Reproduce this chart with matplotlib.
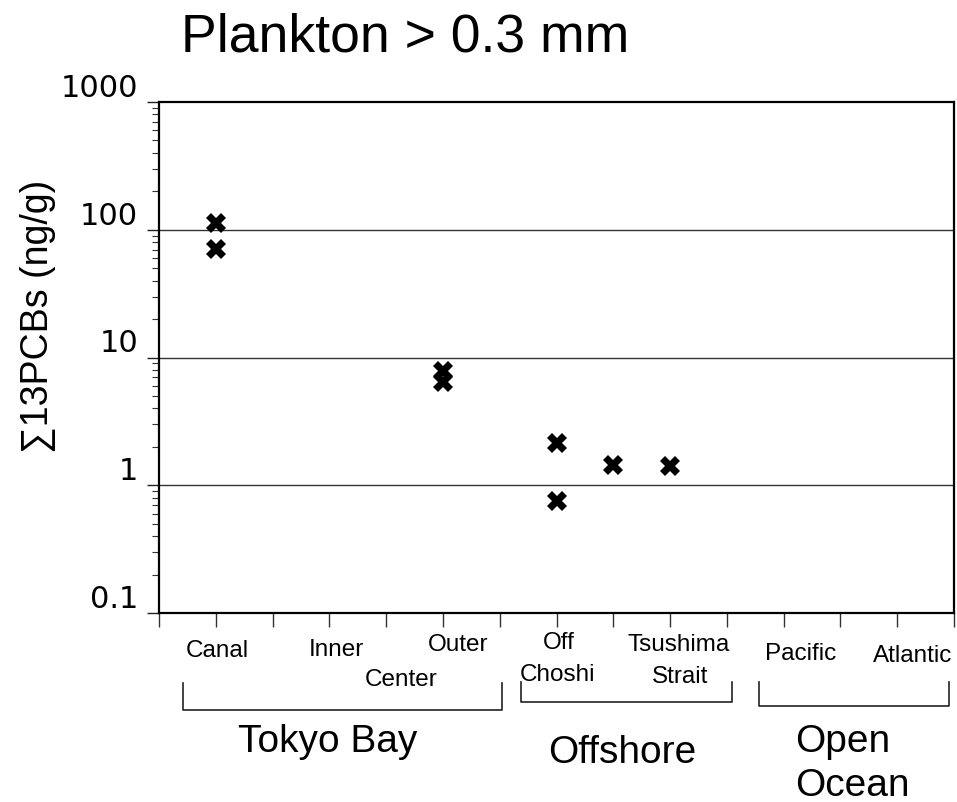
import matplotlib
matplotlib.use("Agg")
import matplotlib.pyplot as plt
from matplotlib.transforms import blended_transform_factory
from matplotlib.ticker import LogLocator, NullFormatter, FixedLocator

# ---- data ----
site_x = [1, 1, 5, 5, 7, 7, 8, 9]
pcb_values = [113, 70.5, 7.8, 6.4, 2.14, 0.75, 1.43, 1.41]

site_labels = ["Canal", "Inner", "Outer", "Center", "Off", "Choshi",
               "Tsushima", "Strait", "Pacific", "Atlantic"]
site_label_x = [1.02, 3.13, 5.26, 4.26, 7.04, 7.02, 9.15, 9.17, 11.3, 13.27]
site_label_ypx = [657, 656, 651, 686, 649, 681, 651, 683, 660, 662]

groups = ["Tokyo Bay", "Offshore", "Open\nOcean"]
group_span = [(0.42, 6.04), (6.37, 10.09), (10.56, 13.91)]
group_bracket_px = [(684, 711), (683, 703), (683, 707)]
group_text_x = [2.97, 8.15, 11.21]
group_text_ypx = [752, 763, 752]
group_text_ha = ["center", "center", "left"]

yticks = [0.1, 1, 10, 100, 1000]
ytick_labels = ["0.1", "1", "10", "100", "1000"]

W, H = 957, 803
fig = plt.figure(figsize=(W / 100, H / 100), dpi=100)
ax = fig.add_axes([159 / W, 1 - 614 / H, (954 - 159) / W, 511 / H])

ax.set_yscale("log")
ax.set_ylim(0.1, 1000)
ax.set_xlim(0, 14)

for y in [1, 10, 100]:
    ax.axhline(y, color="#333333", lw=1.0, zorder=1)

ax.plot(site_x, pcb_values, linestyle="none", marker="X", ms=15,
        color="black", markeredgewidth=0, zorder=3)

ax.xaxis.set_major_locator(FixedLocator(range(0, 15)))
ax.tick_params(axis="x", which="major", direction="out", length=10,
               width=1.0, color="#333333", labelbottom=False)
ax.yaxis.set_major_locator(FixedLocator(yticks))
ax.yaxis.set_minor_locator(LogLocator(base=10, subs=range(2, 10)))
ax.yaxis.set_minor_formatter(NullFormatter())
ax.set_yticklabels(ytick_labels, fontsize=22, family="DejaVu Sans")
for lab in ax.get_yticklabels():
    lab.set_verticalalignment("bottom")
ax.tick_params(axis="y", which="major", direction="out", length=9,
               width=1.0, pad=6, color="#222222")
ax.tick_params(axis="y", which="minor", direction="out", length=5,
               width=0.8, color="#333333")

for s in ax.spines.values():
    s.set_linewidth(1.6)
    s.set_color("black")

fig.text(405 / W, 1 - 52 / H, "Plankton > 0.3 mm", fontsize=38.5,
         family="Liberation Sans", ha="center", va="baseline")
fig.text(38 / W, 1 - 316 / H, "\u221113PCBs (ng/g)",
         fontsize=27, family="Liberation Sans", rotation=90,
         ha="center", va="center")

tr = blended_transform_factory(ax.transData, fig.transFigure)
for lab, x, ypx in zip(site_labels, site_label_x, site_label_ypx):
    ax.text(x, 1 - ypx / H, lab, transform=tr, fontsize=17.5,
            family="Liberation Sans", ha="center", va="baseline",
            clip_on=False)

for name, (x0, x1), (ytop, ybot), tx, typx, ha in zip(
        groups, group_span, group_bracket_px, group_text_x,
        group_text_ypx, group_text_ha):
    ax.plot([x0, x0, x1, x1], [1 - ytop / H, 1 - ybot / H, 1 - ybot / H, 1 - ytop / H],
            transform=tr, color="#222222", lw=1.2, clip_on=False)
    if "\n" in name:
        a, b = name.split("\n")
        ax.text(tx, 1 - typx / H, a, transform=tr, fontsize=28,
                family="Liberation Sans", ha=ha, va="baseline", clip_on=False)
        ax.text(tx, 1 - (typx + 44) / H, b, transform=tr, fontsize=28,
                family="Liberation Sans", ha=ha, va="baseline", clip_on=False)
    else:
        ax.text(tx, 1 - typx / H, name, transform=tr, fontsize=28,
                family="Liberation Sans", ha=ha, va="baseline", clip_on=False)

fig.savefig("out.png", dpi=100)
